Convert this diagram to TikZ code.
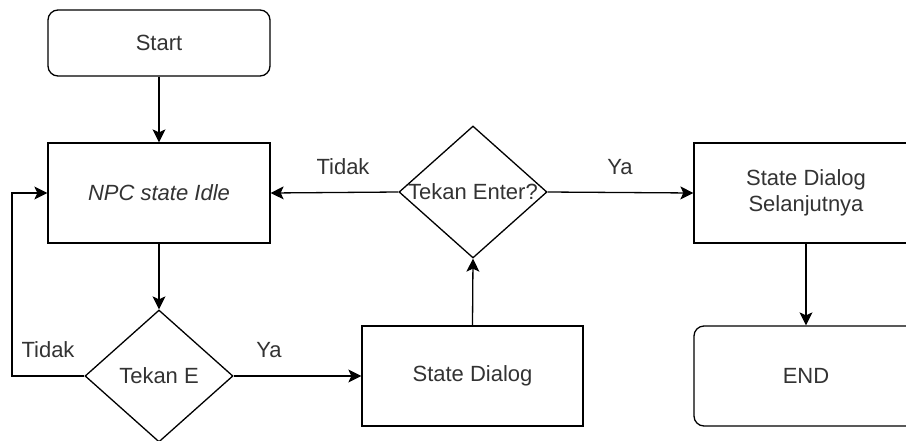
\documentclass[tikz,border=0pt]{standalone}
\usepackage{fontspec}
\setmainfont{Liberation Sans}
\usetikzlibrary{shapes.geometric,arrows.meta}
\definecolor{txt}{HTML}{333333}
\tikzset{
  box/.style={draw=black, line width=1.3pt, rectangle, inner sep=0pt, minimum width=222pt, minimum height=100pt, text=txt, font=\fontsize{22}{26}\selectfont, align=center},
  term/.style={box, rounded corners=10pt},
  decision/.style={draw=black, line width=1.3pt, diamond, aspect=1, inner sep=0pt, minimum width=148pt, minimum height=132pt},
  dlabel/.style={text=txt, font=\fontsize{22}{26}\selectfont, inner sep=0pt},
  conn/.style={draw=black, line width=1.3pt, -{Stealth[length=13pt,width=13pt,inset=3pt]}},
}
\begin{document}
\begin{tikzpicture}[x=1pt,y=-1pt]
\clip (0,0) rectangle (906,440);
\fill[white] (0,0) rectangle (906,440);
\node[term, minimum height=66pt] (start) at (159,43) {Start};
\node[box] (npc) at (159,193) {\itshape NPC state Idle};
\node[decision, label={[dlabel]center:Tekan E}] (tekane) at (159,376) {};
\node[box, minimum width=221pt] (dialog) at (472.5,376) {State Dialog};
\node[decision, label={[dlabel]center:Tekan Enter?}] (enter) at (473,192) {};
\node[box, minimum width=224pt] (next) at (806,193) {State Dialog\\Selanjutnya};
\node[term, minimum width=224pt] (end) at (806,376) {END};
\coordinate (loopb) at (12,376);
\coordinate (loopt) at (12,193);
\draw[conn] (start.south) -- (npc.north);
\draw[conn] (npc.south) -- (tekane.north);
\draw[conn] (tekane.west) -- (loopb) -- (loopt) -- (npc.west);
\draw[conn] (tekane.east) -- (dialog.west);
\draw[conn] (dialog.north) -- (enter.south);
\draw[conn] (enter.west) -- (npc.east);
\draw[conn] (enter.east) -- (next.west);
\draw[conn] (next.south) -- (end.north);
\node[dlabel] (l1) at (48,350) {Tidak};
\node[dlabel] (l2) at (269,350) {Ya};
\node[dlabel] (l3) at (343,167) {Tidak};
\node[dlabel] (l4) at (620,167) {Ya};
\end{tikzpicture}
\end{document}
